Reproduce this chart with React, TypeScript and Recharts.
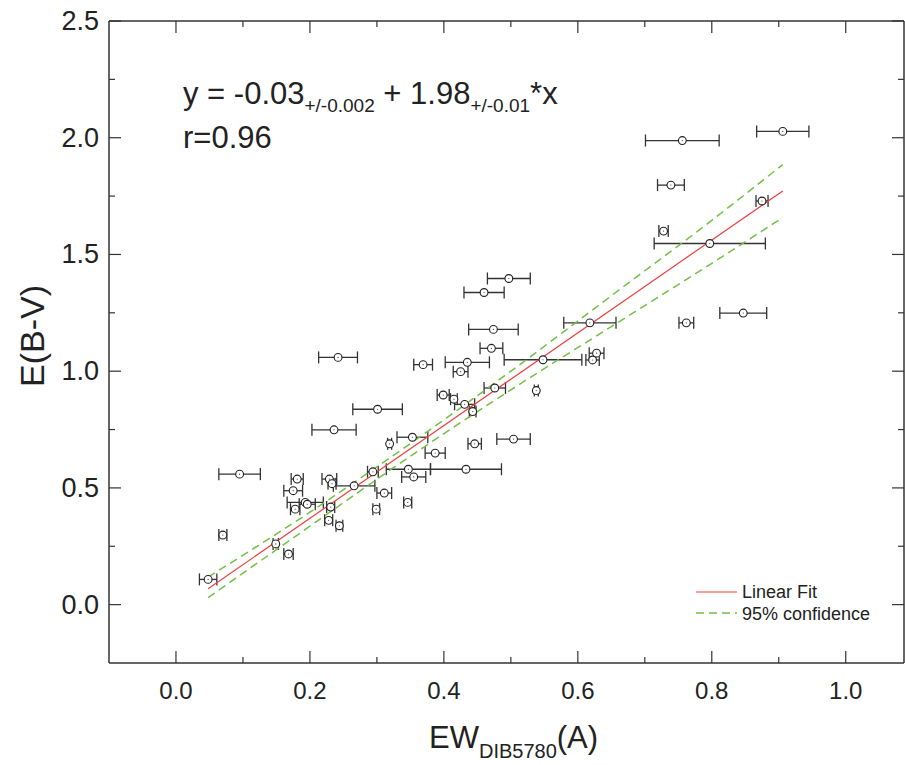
import React from 'react';
import { ComposedChart, Scatter, Line, XAxis, YAxis, ErrorBar, Label, Customized } from 'recharts';

// EW(DIB5780) vs E(B-V), with horizontal error on EW
const ewValues = [
  0.048, 0.07, 0.095, 0.149, 0.168, 0.175, 0.181, 0.178, 0.193, 0.196,
  0.229, 0.233, 0.231, 0.228, 0.244, 0.266, 0.294, 0.299, 0.311, 0.319,
  0.242, 0.301, 0.236, 0.346, 0.347, 0.355, 0.353, 0.387, 0.433, 0.446,
  0.504, 0.399, 0.415, 0.431, 0.443, 0.476, 0.538, 0.369, 0.425, 0.435,
  0.471, 0.474, 0.46, 0.497, 0.548, 0.618, 0.628, 0.622, 0.762, 0.797,
  0.728, 0.739, 0.756, 0.906, 0.875, 0.847,
];
const ebvValues = [
  0.108, 0.298, 0.559, 0.26, 0.217, 0.488, 0.538, 0.409, 0.438, 0.43,
  0.538, 0.518, 0.418, 0.361, 0.338, 0.509, 0.569, 0.409, 0.478, 0.689,
  1.059, 0.837, 0.749, 0.438, 0.58, 0.547, 0.717, 0.649, 0.58, 0.689,
  0.709, 0.898, 0.88, 0.858, 0.827, 0.928, 0.917, 1.028, 0.998, 1.038,
  1.098, 1.179, 1.337, 1.397, 1.049, 1.207, 1.077, 1.048, 1.207, 1.547,
  1.6, 1.797, 1.988, 2.027, 1.729, 1.249,
];
const ewErrors = [
  0.013, 0.006, 0.031, 0.004, 0.007, 0.014, 0.009, 0.007, 0.027, 0.012,
  0.011, 0.006, 0.006, 0.006, 0.005, 0.031, 0.008, 0.005, 0.011, 0.003,
  0.029, 0.037, 0.033, 0.006, 0.033, 0.018, 0.023, 0.015, 0.053, 0.01,
  0.025, 0.009, 0.005, 0.015, 0.005, 0.016, 0.003, 0.014, 0.011, 0.033,
  0.017, 0.037, 0.03, 0.032, 0.058, 0.039, 0.011, 0.01, 0.011, 0.083,
  0.007, 0.02, 0.055, 0.039, 0.009, 0.035,
];

// linear fit end points and 95% confidence band
const fitX = [0.048, 0.906];
const fitY = [0.068, 1.772];
const bandX = [0.048, 0.2, 0.35, 0.5, 0.65, 0.8, 0.906];
const bandUpper = [0.118, 0.396, 0.69, 1.0, 1.323, 1.646, 1.885];
const bandLower = [0.03, 0.336, 0.636, 0.92, 1.191, 1.462, 1.658];

const xTicks = [0, 0.1, 0.2, 0.3, 0.4, 0.5, 0.6, 0.7, 0.8, 0.9, 1.0];
const yTicks = [0, 0.25, 0.5, 0.75, 1.0, 1.25, 1.5, 1.75, 2.0, 2.25, 2.5];

const points = ewValues.map((x, i) => ({ x, y: ebvValues[i], xerr: ewErrors[i] }));
const fitData = fitX.map((x, i) => ({ x, y: fitY[i] }));
const upperData = bandX.map((x, i) => ({ x, y: bandUpper[i] }));
const lowerData = bandX.map((x, i) => ({ x, y: bandLower[i] }));

const FONT = '"Liberation Sans", Arial, Helvetica, sans-serif';
const AXIS = '#333';
const RED = '#f03c3c';
const GREEN = '#74c045';

const isMajorX = (v: number) => Math.round(v * 10) % 2 === 0;
const isMajorY = (v: number) => Math.round(v * 4) % 2 === 0;

const BottomTick = ({ x, y, payload }: any) => {
  const major = isMajorX(payload.value);
  return (
    <g>
      <line x1={x} y1={y} x2={x} y2={y - (major ? 12 : 6)} stroke={AXIS} strokeWidth={1.2} />
      {major && (
        <text x={x} y={y + 36} textAnchor="middle" fontSize={24} fontFamily={FONT} fill="#222">
          {payload.value.toFixed(1)}
        </text>
      )}
    </g>
  );
};

const TopTick = ({ x, y, payload }: any) => {
  const major = isMajorX(payload.value);
  return <line x1={x} y1={y} x2={x} y2={y + (major ? 12 : 6)} stroke={AXIS} strokeWidth={1.2} />;
};

const LeftTick = ({ x, y, payload }: any) => {
  const major = isMajorY(payload.value);
  return (
    <g>
      <line x1={x} y1={y} x2={x + (major ? 12 : 6)} y2={y} stroke={AXIS} strokeWidth={1.2} />
      {major && (
        <text x={x - 10} y={y + 9} textAnchor="end" fontSize={27} fontFamily={FONT} fill="#222">
          {payload.value.toFixed(1)}
        </text>
      )}
    </g>
  );
};

const RightTick = ({ x, y, payload }: any) => {
  const major = isMajorY(payload.value);
  return <line x1={x} y1={y} x2={x - (major ? 12 : 6)} y2={y} stroke={AXIS} strokeWidth={1.2} />;
};

const OpenCircle = (props: any) => {
  const { cx, cy } = props;
  return (
    <g>
      <circle cx={cx} cy={cy} r={3.9} fill="#fff" stroke="#222" strokeWidth={1.1} />
      <circle cx={cx} cy={cy} r={0.6} fill="#444" />
    </g>
  );
};

const Equation = () => (
  <g fontFamily={FONT} fill="#222">
    <text x={183} y={104} fontSize={31}>
      y = -0.03
      <tspan fontSize={19} dy={8}>+/-0.002</tspan>
      <tspan fontSize={31} dy={-8}> + 1.98</tspan>
      <tspan fontSize={19} dy={8}>+/-0.01</tspan>
      <tspan fontSize={31} dy={-8}>*x</tspan>
    </text>
    <text x={183} y={148} fontSize={31}>r=0.96</text>
  </g>
);

const FitLegend = () => (
  <g fontFamily={FONT} fill="#222" fontSize={18}>
    <line x1={696} y1={592} x2={737} y2={592} stroke={RED} strokeWidth={1.2} />
    <text x={742} y={598}>Linear Fit</text>
    <line x1={696} y1={613} x2={737} y2={613} stroke={GREEN} strokeWidth={1.5} strokeDasharray="8 5" />
    <text x={742} y={620}>95% confidence</text>
  </g>
);

const XTitle = () => (
  <text x={429} y={748} fontFamily={FONT} fill="#222" fontSize={31}>
    EW
    <tspan fontSize={20} dy={10}>DIB5780</tspan>
    <tspan fontSize={31} dy={-10}>(A)</tspan>
  </text>
);

const YTitle = () => (
  <text
    x={44}
    y={336}
    transform="rotate(-90 44 336)"
    textAnchor="middle"
    fontFamily={FONT}
    fill="#222"
    fontSize={34}
  >
    E(B-V)
  </text>
);

export default function App() {
  return (
    <div style={{ position: 'absolute', left: 0, top: 0, width: 905, height: 765, background: '#fff' }}>
      <ComposedChart width={905} height={765} margin={{ top: 20, right: 0, bottom: 0, left: 0 }}>
        <XAxis
          dataKey="x"
          type="number"
          domain={[-0.1, 1.087]}
          ticks={xTicks}
          allowDataOverflow
          height={102}
          tickSize={0}
          tickMargin={0}
          tickLine={false}
          tick={<BottomTick />}
          axisLine={{ stroke: AXIS, strokeWidth: 1.5 }}
        >
          <Label content={<XTitle />} />
        </XAxis>
        <XAxis
          xAxisId="top"
          orientation="top"
          dataKey="x"
          type="number"
          domain={[-0.1, 1.087]}
          ticks={xTicks}
          allowDataOverflow
          height={1}
          tickSize={0}
          tickMargin={0}
          tickLine={false}
          tick={<TopTick />}
          axisLine={{ stroke: AXIS, strokeWidth: 1.5 }}
        />
        <YAxis
          dataKey="y"
          type="number"
          domain={[-0.25, 2.5]}
          ticks={yTicks}
          allowDataOverflow
          width={109}
          tickSize={0}
          tickMargin={0}
          tickLine={false}
          tick={<LeftTick />}
          axisLine={{ stroke: AXIS, strokeWidth: 1.5 }}
        >
          <Label content={<YTitle />} />
        </YAxis>
        <YAxis
          yAxisId="right"
          orientation="right"
          dataKey="y"
          type="number"
          domain={[-0.25, 2.5]}
          ticks={yTicks}
          allowDataOverflow
          width={1}
          tickSize={0}
          tickMargin={0}
          tickLine={false}
          tick={<RightTick />}
          axisLine={{ stroke: AXIS, strokeWidth: 1.5 }}
        />
        <Scatter data={points} dataKey="y" shape={<OpenCircle />} isAnimationActive={false}>
          <ErrorBar dataKey="xerr" direction="x" width={6} stroke="#333" strokeWidth={1.3} />
        </Scatter>
        <Line data={upperData} dataKey="y" type="monotone" stroke={GREEN} strokeWidth={1.5} strokeDasharray="8 5" dot={false} activeDot={false} isAnimationActive={false} />
        <Line data={lowerData} dataKey="y" type="monotone" stroke={GREEN} strokeWidth={1.5} strokeDasharray="8 5" dot={false} activeDot={false} isAnimationActive={false} />
        <Line data={fitData} dataKey="y" type="linear" stroke={RED} strokeWidth={1.2} dot={false} activeDot={false} isAnimationActive={false} />
        <Customized component={Equation} />
        <Customized component={FitLegend} />
      </ComposedChart>
    </div>
  );
}
